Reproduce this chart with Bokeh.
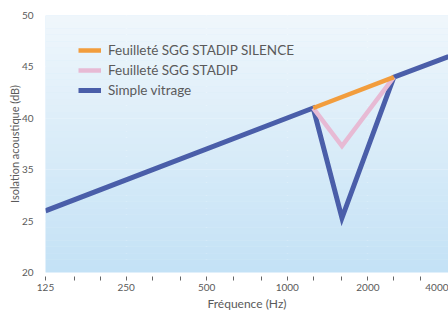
import numpy as np
from bokeh.plotting import figure
from bokeh.models import FixedTicker, BoxAnnotation, Range1d
from bokeh.embed import file_html
from bokeh.resources import INLINE

# ---- data ----
freq_simple = [125, 1250, 1600, 2500, 4000]
db_simple = [31.0, 41.0, 30.3, 44.0, 46.0]
freq_stadip = [1250, 1600, 2500]
db_stadip = [41.0, 37.3, 44.0]
freq_silence = [1250, 2500]
db_silence = [41.0, 44.0]

x_ticks = [160, 200, 250, 315, 400, 500, 630, 800, 1000, 1250, 1600, 2000, 2500, 3150, 4000]
x_labels = {125: "125", 250: "250", 500: "500", 1000: "1000", 2000: "2000", 4000: "4000"}
x_grid = [250, 500, 1000, 2000]
y_ticks = [25, 30, 35, 40, 45, 50]
y_labels = {25: "20", 30: "25", 35: "35", 40: "40", 45: "45", 50: "50"}

FONT = "Lato"
GREY = "#5a5a5a"

p = figure(width=448, height=313, x_axis_type="log",
           x_range=Range1d(125, 4000), y_range=Range1d(25, 50),
           output_backend="svg", toolbar_location=None,
           min_border_left=45, min_border_top=15, min_border_bottom=41, min_border_right=0)
p.outline_line_color = None
p.background_fill_color = "#d8ecf9"
p.border_fill_color = "white"

# background gradient bands
n = 40
edges = np.linspace(25, 50, n + 1)
c0 = np.array([0xc4, 0xe2, 0xf6])
c1 = np.array([0xf0, 0xf7, 0xfc])
for i in range(n):
    t = (i + 0.5) / n
    c = (c0 * (1 - t) + c1 * t).astype(int)
    col = "#%02x%02x%02x" % tuple(c)
    p.add_layout(BoxAnnotation(bottom=edges[i], top=edges[i + 1], fill_color=col,
                               fill_alpha=1.0, line_color=None, level="underlay"))

# grids
p.xgrid.ticker = FixedTicker(ticks=x_grid)
p.ygrid.ticker = FixedTicker(ticks=y_ticks)
for g in (p.xgrid, p.ygrid):
    g.grid_line_color = "white"
    g.grid_line_width = 1.5
    g.level = "underlay"

# x axis
xa = p.xaxis[0]
all_x = sorted(set(x_ticks) | set(x_labels))
xa.ticker = FixedTicker(ticks=all_x, minor_ticks=[])
xa.major_label_overrides = {t: x_labels.get(t, "") for t in all_x}
xa.axis_line_color = None
xa.major_tick_line_color = "#666666"
xa.major_tick_in = -4
xa.major_tick_out = 8
xa.minor_tick_line_color = None
xa.major_label_standoff = 3
xa.major_label_text_font = FONT
xa.major_label_text_font_size = "10px"
xa.major_label_text_color = GREY
xa.axis_label = "Fréquence (Hz)"
xa.axis_label_text_font = FONT
xa.axis_label_text_font_style = "normal"
xa.axis_label_text_font_size = "12px"
xa.axis_label_text_color = GREY
xa.axis_label_standoff = 2

# y axis
ya = p.yaxis[0]
ya.ticker = FixedTicker(ticks=y_ticks, minor_ticks=[])
ya.major_label_overrides = y_labels
ya.axis_line_color = None
ya.major_tick_line_color = None
ya.minor_tick_line_color = None
ya.major_label_standoff = 6
ya.major_label_text_font = FONT
ya.major_label_text_font_size = "10px"
ya.major_label_text_color = GREY
ya.axis_label = "Isolation acoustique (dB)"
ya.axis_label_text_font = FONT
ya.axis_label_text_font_style = "normal"
ya.axis_label_text_font_size = "11px"
ya.axis_label_text_color = GREY
ya.axis_label_standoff = -2

# lines
r_simple = p.line(freq_simple, db_simple, line_color="#4a5ea9", line_width=5,
                  line_join="miter", legend_label="Simple vitrage")
r_stadip = p.line(freq_stadip, db_stadip, line_color="#e7bad4", line_width=4.5,
                  line_join="miter", legend_label="Feuilleté SGG STADIP")
r_silence = p.line(freq_silence, db_silence, line_color="#f29d3d", line_width=4.5,
                   legend_label="Feuilleté SGG STADIP SILENCE")

lg = p.legend[0]
lg.items = list(reversed(lg.items))
lg.location = (33, 172)
lg.background_fill_alpha = 0
lg.border_line_color = None
lg.padding = 0
lg.margin = 0
lg.spacing = 0
lg.label_height = 20
lg.glyph_height = 20
lg.glyph_width = 23
lg.label_standoff = 7
lg.label_text_font = FONT
lg.label_text_font_size = "13.5px"
lg.label_text_color = GREY

open("out.html", "w").write(file_html(p, INLINE))
